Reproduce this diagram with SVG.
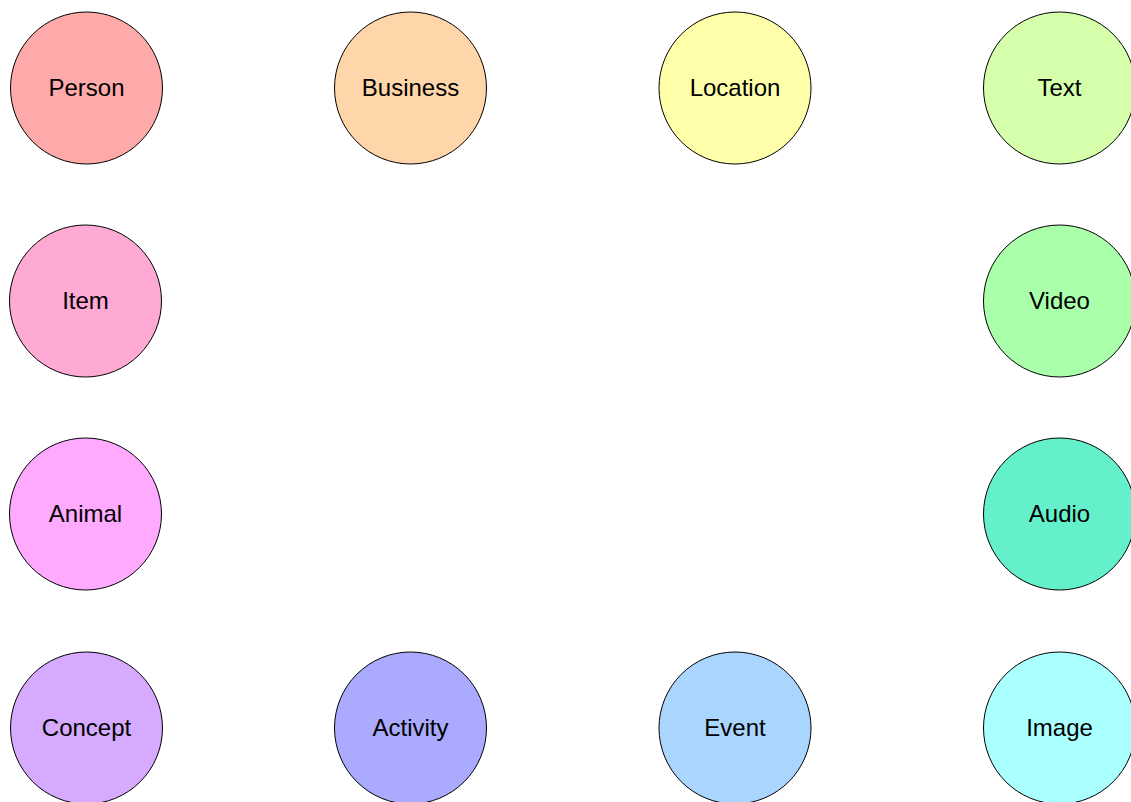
<svg xmlns="http://www.w3.org/2000/svg" width="1131" height="802" viewBox="0 0 1131 802">
<style>
.n circle{stroke:#000;stroke-width:1}
.n text{font-family:"Liberation Sans",Arial,sans-serif;font-size:24px;fill:#000;text-anchor:middle}
</style>
<rect width="1131" height="802" fill="#fff"/>
<g id="connectors"></g>
<g id="person" class="n"><circle cx="86.5" cy="88" r="76" fill="#FFAAAA"/><text x="86.5" y="96">Person</text></g>
<g id="business" class="n"><circle cx="410.5" cy="88" r="76" fill="#FFD5AA"/><text x="410.5" y="96">Business</text></g>
<g id="location" class="n"><circle cx="735" cy="88" r="76" fill="#FFFFAA"/><text x="735" y="96">Location</text></g>
<g id="text" class="n"><circle cx="1059.5" cy="88" r="76" fill="#D5FFAA"/><text x="1059.5" y="96">Text</text></g>
<g id="item" class="n"><circle cx="85.5" cy="301" r="76" fill="#FFAAD5"/><text x="85.5" y="309">Item</text></g>
<g id="video" class="n"><circle cx="1059.5" cy="301" r="76" fill="#AAFFAA"/><text x="1059.5" y="309">Video</text></g>
<g id="animal" class="n"><circle cx="85.5" cy="514" r="76" fill="#FFAAFF"/><text x="85.5" y="522">Animal</text></g>
<g id="audio" class="n"><circle cx="1059.5" cy="514" r="76" fill="#63F0CA"/><text x="1059.5" y="522">Audio</text></g>
<g id="concept" class="n"><circle cx="86.5" cy="728" r="76" fill="#D5AAFF"/><text x="86.5" y="736">Concept</text></g>
<g id="activity" class="n"><circle cx="410.5" cy="728" r="76" fill="#AAAAFF"/><text x="410.5" y="736">Activity</text></g>
<g id="event" class="n"><circle cx="735" cy="728" r="76" fill="#AAD5FF"/><text x="735" y="736">Event</text></g>
<g id="image" class="n"><circle cx="1059.5" cy="728" r="76" fill="#AAFFFF"/><text x="1059.5" y="736">Image</text></g>
</svg>
